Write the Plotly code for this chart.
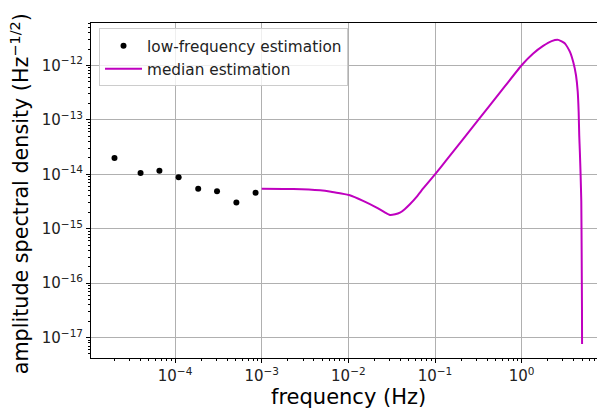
import plotly.graph_objects as go

# low-frequency estimation points
lf_freq = [2.0e-5, 4.0e-5, 6.6e-5, 1.1e-4, 1.85e-4, 3.05e-4, 5.1e-4, 8.5e-4]
lf_asd = [2.0e-14, 1.06e-14, 1.16e-14, 8.8e-15, 5.4e-15, 4.9e-15, 3.05e-15, 4.6e-15]

# median estimation curve
med_freq = [1.0e-3, 2.32e-3, 4.72e-3, 6.31e-3, 8.0e-3, 1.04e-2, 1.48e-2, 2.12e-2,
            2.63e-2, 3.02e-2, 3.47e-2, 3.94e-2, 4.47e-2, 5.13e-2, 6.17e-2, 7.31e-2,
            0.1, 0.136, 0.316, 0.561, 1.0, 1.36, 1.77, 2.22, 2.65, 3.16, 3.61,
            3.94, 4.24, 4.44, 4.55, 4.62, 4.70, 4.79, 4.88, 4.93, 4.97, 4.98]
med_asd = [5.43e-15, 5.37e-15, 5.08e-15, 4.79e-15, 4.47e-15, 4.11e-15, 3.24e-15, 2.44e-15,
           2.0e-15, 1.79e-15, 1.84e-15, 1.97e-15, 2.29e-15, 2.82e-15, 3.90e-15, 5.50e-15,
           1.0e-14, 1.84e-14, 1.0e-13, 3.16e-13, 1.01e-12, 1.66e-12, 2.29e-12, 2.80e-12,
           2.95e-12, 2.54e-12, 1.78e-12, 1.16e-12, 6.61e-13, 3.27e-13, 1.40e-13, 5.25e-14,
           2.51e-14, 1.0e-14, 3.16e-15, 3.16e-16, 3.16e-17, 7.6e-18]

x_tickvals = [1e-4, 1e-3, 1e-2, 1e-1, 1e0]
x_ticktext = ["10<sup>−4</sup>", "10<sup>−3</sup>", "10<sup>−2</sup>", "10<sup>−1</sup>", "10<sup>0</sup>"]
y_tickvals = [1e-17, 1e-16, 1e-15, 1e-14, 1e-13, 1e-12]
y_ticktext = ["10<sup>−17</sup>", "10<sup>−16</sup>", "10<sup>−15</sup>",
              "10<sup>−14</sup>", "10<sup>−13</sup>", "10<sup>−12</sup>"]

FONT = "DejaVu Sans"

# the page body has an 8px default margin: size the figure so that it fills the window
W, H, OFF = 605, 411, 8

fig = go.Figure()
fig.add_trace(go.Scatter(x=lf_freq, y=lf_asd, mode="markers",
                         marker=dict(color="black", size=6),
                         name="low-frequency estimation"))
fig.add_trace(go.Scatter(x=med_freq, y=med_asd, mode="lines",
                         line=dict(color="#bf00bf", width=2, shape="spline", smoothing=0.4),
                         name="median estimation"))

axis_common = dict(
    type="log",
    automargin=False,
    showline=True, linecolor="black", linewidth=1,
    ticks="outside", ticklen=4, tickwidth=1, tickcolor="black",
    showgrid=True, gridcolor="#b0b0b0", gridwidth=1,
    zeroline=False,
    tickmode="array",
    tickfont=dict(family=FONT, size=15, color="#222222"),
    minor=dict(ticks="outside", ticklen=2, tickwidth=1, tickcolor="black",
               dtick="D1", showgrid=False),
)

# plot area in page pixels: left 91, top 23, bottom 357.7, right 605
fig.update_layout(
    width=W - OFF, height=H - OFF,
    margin=dict(l=91 - OFF, r=0, t=23 - OFF, b=(H - OFF) - (357.7 - OFF)),
    paper_bgcolor="white", plot_bgcolor="white",
    font=dict(family=FONT, color="black"),
    showlegend=True,
    legend=dict(x=0.0156, y=(357.7 - 28) / 335, xanchor="left", yanchor="top",
                bgcolor="rgba(255,255,255,0.8)", bordercolor="#cccccc", borderwidth=1,
                tracegroupgap=0, itemwidth=37,
                font=dict(family=FONT, size=15.3, color="#222222")),
    xaxis=dict(axis_common, range=[-4.97, 0.962], mirror=True,
               tickvals=x_tickvals, ticktext=x_ticktext),
    yaxis=dict(axis_common, range=[-17.375, -11.22], mirror=False,
               tickvals=y_tickvals, ticktext=y_ticktext),
    annotations=[
        dict(text="frequency (Hz)", xref="paper", yref="paper",
             x=(348 - 91) / 514, y=(357.7 - 397) / 335,
             xanchor="center", yanchor="middle", showarrow=False,
             font=dict(family=FONT, size=21, color="black")),
        dict(text="amplitude spectral density (Hz<sup>−1/2</sup>)", xref="paper", yref="paper",
             x=(20 - 91) / 514, y=(357.7 - 194) / 335, textangle=-90,
             xanchor="center", yanchor="middle", showarrow=False,
             font=dict(family=FONT, size=20.7, color="black")),
    ],
)

fig.write_html("out.html")
